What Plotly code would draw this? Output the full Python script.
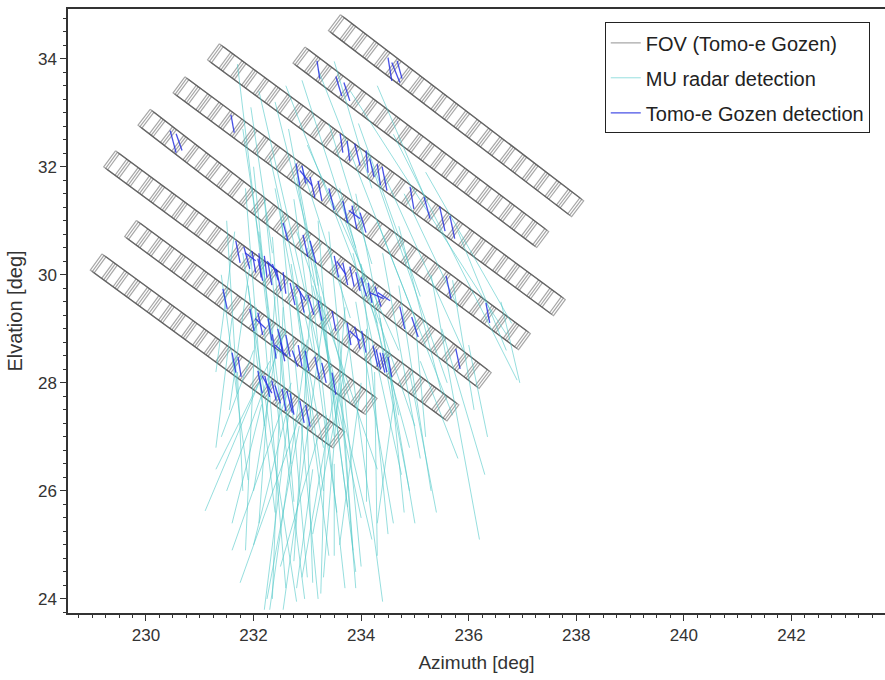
import numpy as np
import plotly.graph_objects as go

# ---------------------------------------------------------------------------
# Tomo-e Gozen field of view: one strip of sensor cells per pointing.
# Centre line of each strip (start -> end) in azimuth / elevation, and the
# number of sensor cells along the strip.
# ---------------------------------------------------------------------------
STRIP_AZ0 = [233.54, 232.88, 231.29, 230.65, 230.00, 229.36, 229.75, 229.11]
STRIP_EL0 = [34.64, 34.04, 34.10, 33.49, 32.89, 32.12, 30.83, 30.21]
STRIP_AZ1 = [237.99, 237.34, 237.65, 237.00, 236.27, 235.67, 234.15, 233.55]
STRIP_EL1 = [31.25, 30.68, 29.42, 28.79, 28.07, 27.47, 27.59, 26.97]
STRIP_CELLS = [21, 21, 30, 30, 30, 30, 21, 21]

# ---------------------------------------------------------------------------
# MU radar meteor trajectories (start -> end)
# ---------------------------------------------------------------------------
MU_AZ0 = [231.70, 232.10, 232.40, 232.60, 232.90, 233.20, 233.50, 233.80, 234.30, 234.60,
          233.00, 232.80, 232.12, 232.30, 232.70, 232.00, 232.90, 233.00, 233.30, 232.40,
          231.90, 231.80, 232.10, 232.50, 232.70, 233.00, 233.40, 233.60, 233.10, 234.00,
          234.20, 234.40, 234.70, 235.00, 235.30, 235.50, 236.00, 236.60, 231.50, 231.60,
          232.60, 233.80, 233.50, 234.00, 233.20, 232.60, 233.90, 234.10, 233.60, 232.90,
          232.30, 232.00, 231.80, 233.40, 234.80, 235.20, 235.80, 234.50, 234.90, 235.10,
          233.70, 232.80, 233.20, 232.20, 231.40, 231.70, 234.30, 233.10, 234.60, 233.50,
          232.50, 233.25, 233.90, 232.20, 232.95, 234.10, 233.40, 232.80, 233.70, 231.95,
          232.45, 234.70, 235.70, 232.65, 231.95, 231.85, 232.35, 232.75, 233.15, 233.55,
          232.05, 232.55, 233.05, 233.85, 234.35, 231.65, 232.15, 232.85, 233.35, 234.25,
          232.40, 233.95, 234.45, 232.70, 233.60]
MU_EL0 = [33.90, 33.40, 33.20, 33.50, 33.60, 33.80, 33.95, 33.40, 33.50, 32.60,
          32.40, 31.80, 28.04, 28.40, 28.00, 28.60, 27.50, 28.80, 29.20, 29.60,
          29.80, 30.40, 30.80, 31.20, 30.20, 30.50, 30.80, 30.00, 29.80, 30.20,
          29.60, 30.40, 29.80, 29.20, 30.00, 29.00, 28.70, 29.50, 31.00, 29.20,
          29.00, 28.80, 27.80, 28.00, 27.00, 27.40, 31.50, 32.30, 31.60, 32.00,
          32.20, 32.00, 32.70, 32.80, 31.50, 31.90, 30.80, 28.60, 28.20, 28.40,
          29.40, 29.60, 31.00, 31.40, 30.00, 28.20, 31.00, 26.40, 27.60, 26.50,
          30.00, 29.60, 29.50, 29.00, 28.60, 29.00, 28.40, 30.80, 31.00, 30.30,
          28.80, 30.90, 29.90, 32.70, 33.10, 31.60, 30.70, 31.40, 30.20, 29.00,
          29.40, 29.40, 29.30, 30.40, 29.20, 30.80, 27.60, 27.20, 27.40, 28.20,
          31.60, 32.80, 31.80, 27.80, 28.00]
MU_AZ1 = [232.30, 233.30, 233.80, 234.30, 233.90, 235.00, 234.20, 236.70, 235.20, 236.90,
          234.70, 233.60, 231.10, 231.30, 231.60, 231.40, 231.75, 232.30, 232.55, 232.10,
          232.40, 232.80, 232.95, 233.20, 233.40, 233.70, 234.00, 234.40, 234.20, 234.50,
          234.90, 235.10, 235.30, 235.20, 236.20, 236.30, 236.35, 236.95, 231.70, 231.30,
          231.50, 233.10, 232.90, 233.60, 232.50, 232.00, 234.70, 235.60, 234.90, 233.80,
          233.10, 232.50, 232.20, 234.20, 235.80, 236.80, 236.70, 234.80, 235.40, 235.80,
          233.30, 233.30, 233.50, 232.70, 231.90, 231.80, 235.70, 232.80, 234.30, 233.50,
          233.00, 233.90, 234.60, 232.60, 233.10, 234.10, 234.00, 234.30, 235.00, 231.55,
          232.00, 235.50, 236.10, 233.20, 232.35, 232.20, 232.75, 233.55, 233.75, 233.85,
          231.85, 232.35, 232.75, 234.75, 235.00, 231.30, 231.60, 232.25, 233.25, 234.30,
          233.30, 235.10, 235.90, 232.20, 233.90]
MU_EL1 = [28.90, 28.20, 27.60, 29.10, 30.50, 29.20, 31.60, 28.90, 31.40, 28.05,
          28.60, 27.20, 25.63, 26.40, 24.90, 27.00, 24.30, 23.80, 23.80, 25.40,
          25.60, 23.95, 24.00, 24.00, 24.80, 24.20, 24.60, 23.95, 25.10, 25.20,
          26.00, 26.60, 26.00, 27.00, 25.10, 26.30, 27.00, 28.00, 27.80, 26.80,
          26.00, 25.20, 24.40, 25.00, 24.60, 25.00, 27.40, 28.00, 26.80, 29.20,
          28.60, 27.00, 30.00, 30.20, 29.40, 29.10, 28.60, 25.60, 25.60, 26.60,
          24.40, 26.00, 27.00, 26.50, 26.20, 26.00, 27.40, 24.20, 25.40, 24.80,
          24.40, 24.50, 25.40, 24.20, 24.30, 25.80, 25.50, 26.40, 27.20, 27.50,
          26.00, 27.80, 27.50, 29.80, 30.40, 27.20, 25.80, 25.60, 25.70, 24.90,
          24.90, 24.00, 24.70, 26.30, 25.40, 28.20, 25.40, 24.00, 24.10, 24.80,
          26.80, 29.60, 28.60, 23.80, 24.20]

# ---------------------------------------------------------------------------
# Tomo-e Gozen meteor detections (start -> end)
# ---------------------------------------------------------------------------
TG_AZ0 = [234.50, 234.57, 234.67,
          233.18, 233.53, 233.68,
          233.61, 233.74, 233.88, 234.09, 234.16, 234.39, 234.91, 235.17, 235.46, 235.65,
          231.58, 232.79, 232.90, 233.05, 233.20, 233.66, 233.83, 233.98, 233.77, 235.58, 236.32,
          230.45, 230.56, 232.55, 232.92, 233.05, 233.66, 233.79, 234.13, 234.26, 234.16,
          234.72, 234.94, 235.76,
          231.67, 231.82, 231.97, 232.08, 232.27, 232.42, 232.68, 232.86, 233.01, 233.20,
          233.46, 233.74, 233.88, 234.01, 234.35, 234.50, 234.22,
          231.43, 231.93, 232.08, 232.27, 232.45, 232.60, 232.83, 232.96, 233.14, 233.27, 233.46,
          231.60, 231.71, 232.08, 232.21, 232.34, 232.53, 232.68, 232.86, 232.97,
          232.79, 232.16, 233.79, 234.31, 232.03, 232.86, 231.84,
          232.10, 232.20, 232.35, 232.55, 232.35, 232.50, 232.72, 232.40, 232.62,
          233.50, 233.90, 234.00, 234.28, 234.40, 233.40, 234.30,
          232.25, 232.40, 233.55]
TG_EL0 = [34.02, 33.93, 33.96,
          33.96, 33.67, 33.56,
          32.61, 32.48, 32.43, 32.30, 32.15, 32.00, 31.63, 31.44, 31.26, 31.09,
          32.96, 32.06, 32.02, 31.81, 31.74, 31.37, 31.28, 31.15, 31.19, 29.98, 29.48,
          32.67, 32.61, 30.96, 30.74, 30.63, 30.22, 30.15, 29.85, 29.78, 29.67,
          29.41, 29.22, 28.63,
          30.63, 30.52, 30.44, 30.30, 30.22, 30.11, 29.85, 29.70, 29.63, 29.52,
          29.33, 29.11, 29.04, 28.96, 28.56, 28.48, 28.69,
          29.74, 29.37, 29.30, 29.19, 29.00, 28.89, 28.70, 28.59, 28.48, 28.37, 28.19,
          28.56, 28.48, 28.22, 28.13, 28.04, 27.89, 27.81, 27.67, 27.59,
          29.80, 28.13, 28.96, 29.67, 29.19, 31.93, 30.41,
          30.40, 30.35, 30.20, 30.05, 28.90, 28.75, 28.60, 27.95, 27.85,
          30.35, 30.05, 29.95, 28.62, 28.55, 31.60, 32.05,
          30.25, 28.70, 30.25]
TG_AZ1 = [234.57, 234.72, 234.76,
          233.23, 233.64, 233.79,
          233.66, 233.79, 233.98, 234.13, 234.24, 234.48, 234.98, 235.28, 235.56, 235.74,
          231.64, 232.86, 232.97, 233.14, 233.27, 233.75, 233.92, 234.09, 233.98, 235.67, 236.39,
          230.56, 230.67, 232.64, 233.01, 233.16, 233.75, 233.87, 234.20, 234.37, 234.42,
          234.81, 235.06, 235.84,
          231.75, 231.93, 232.04, 232.17, 232.34, 232.51, 232.77, 232.94, 233.12, 233.27,
          233.53, 233.81, 233.98, 234.09, 234.44, 234.57, 234.31,
          231.51, 232.01, 232.17, 232.34, 232.55, 232.68, 232.90, 233.03, 233.23, 233.35, 233.53,
          231.67, 231.77, 232.16, 232.30, 232.42, 232.60, 232.75, 232.94, 233.05,
          232.97, 232.34, 233.98, 234.54, 232.23, 233.09, 232.04,
          232.14, 232.25, 232.46, 232.60, 232.42, 232.58, 232.82, 232.50, 232.72,
          233.58, 233.98, 234.10, 234.36, 234.48, 233.50, 234.36,
          232.45, 232.62, 233.72]
TG_EL1 = [33.59, 33.56, 33.63,
          33.63, 33.31, 33.22,
          32.26, 32.11, 32.02, 31.89, 31.81, 31.56, 31.22, 31.04, 30.81, 30.67,
          32.63, 31.65, 31.69, 31.43, 31.37, 30.96, 30.85, 30.78, 31.04, 29.56, 29.11,
          32.26, 32.30, 30.63, 30.33, 30.22, 29.81, 29.78, 29.48, 29.41, 29.56,
          29.00, 28.85, 28.26,
          30.22, 30.11, 30.04, 29.89, 29.81, 29.70, 29.44, 29.30, 29.26, 29.15,
          28.96, 28.70, 28.63, 28.56, 28.19, 28.11, 28.30,
          29.37, 28.96, 28.89, 28.78, 28.59, 28.48, 28.30, 28.22, 28.07, 28.00, 27.78,
          28.19, 28.11, 27.81, 27.74, 27.67, 27.48, 27.41, 27.26, 27.19,
          29.52, 27.81, 28.78, 29.52, 29.00, 31.65, 30.26,
          29.95, 29.95, 29.90, 29.65, 28.45, 28.40, 28.30, 27.62, 27.45,
          29.95, 29.70, 29.60, 28.25, 28.20, 31.20, 31.66,
          30.05, 28.50, 30.00]

# Strip geometry / drawing constants
STRIP_WIDTH = 0.37                   # deg, across the strip
DRIFT_SHIFTS = [-0.045, 0.0, 0.045]  # small drift of the field during the run (deg)
FONT = "Liberation Sans, Arial, sans-serif"


def strip_path(az0, el0, az1, el1, ncell, shift):
    """Outline plus cell separators of one sensor strip as a None-separated path."""
    p0 = np.array([az0, el0], dtype=float)
    p1 = np.array([az1, el1], dtype=float)
    d = p1 - p0
    u = d / np.hypot(*d)
    n = np.array([-u[1], u[0]])
    p0 = p0 + u * shift
    p1 = p1 + u * shift
    h = n * STRIP_WIDTH / 2
    xs, ys = [], []
    ring = [p0 + h, p1 + h, p1 - h, p0 - h, p0 + h]
    xs += [q[0] for q in ring] + [None]
    ys += [q[1] for q in ring] + [None]
    for k in range(1, ncell):
        c = p0 + (p1 - p0) * k / ncell
        a, b = c + h, c - h
        xs += [a[0], b[0], None]
        ys += [a[1], b[1], None]
    return xs, ys


def segment_path(ax0, ay0, ax1, ay1):
    xs, ys = [], []
    for x0, y0, x1, y1 in zip(ax0, ay0, ax1, ay1):
        xs += [x0, x1, None]
        ys += [y0, y1, None]
    return xs, ys


fov_x, fov_y = [], []
for i in range(len(STRIP_AZ0)):
    for s in DRIFT_SHIFTS:
        xs, ys = strip_path(STRIP_AZ0[i], STRIP_EL0[i], STRIP_AZ1[i], STRIP_EL1[i],
                            STRIP_CELLS[i], s)
        fov_x += xs
        fov_y += ys

mu_x, mu_y = segment_path(MU_AZ0, MU_EL0, MU_AZ1, MU_EL1)
tg_x, tg_y = segment_path(TG_AZ0, TG_EL0, TG_AZ1, TG_EL1)

fig = go.Figure()
fig.add_trace(go.Scatter(
    x=fov_x, y=fov_y, mode="lines", name="FOV (Tomo-e Gozen)",
    line=dict(color="rgba(80,80,80,0.5)", width=1.2),
    legendgroup="fov", hoverinfo="skip"))
fig.add_trace(go.Scatter(
    x=mu_x, y=mu_y, mode="lines", name="MU radar detection",
    line=dict(color="rgba(80,200,200,0.6)", width=1),
    legendgroup="mu", hoverinfo="skip"))
fig.add_trace(go.Scatter(
    x=tg_x, y=tg_y, mode="lines", name="Tomo-e Gozen detection",
    line=dict(color="rgba(40,50,225,0.85)", width=1.3),
    legendgroup="tg", hoverinfo="skip"))

axis_common = dict(
    showline=True, linecolor="#333", linewidth=1.5,
    showgrid=False, zeroline=False,
    ticks="outside", ticklen=6, tickwidth=1.3, tickcolor="#333",
    minor=dict(ticks="outside", ticklen=3, tickwidth=1, tickcolor="#333", dtick=0.25),
    tickfont=dict(family=FONT, size=17, color="#333"),
)

fig.update_layout(
    width=885, height=680,
    margin=dict(l=68, r=0, t=9, b=67),
    paper_bgcolor="white", plot_bgcolor="white",
    showlegend=True,
    legend=dict(
        x=0.657, y=0.978, xanchor="left", yanchor="top",
        bordercolor="#222", borderwidth=1, bgcolor="white",
        font=dict(family=FONT, size=20, color="#222"),
        traceorder="grouped", tracegroupgap=6, itemwidth=30,
    ),
    xaxis=dict(
        range=[228.55, 243.74], tick0=230, dtick=2, mirror=True,
        title=dict(text="Azimuth [deg]", standoff=12,
                   font=dict(family=FONT, size=19, color="#333")),
        **axis_common),
    yaxis=dict(
        range=[23.74, 34.92], tick0=24, dtick=2, mirror=False,
        title=dict(text="Elvation [deg]", standoff=10,
                   font=dict(family=FONT, size=20, color="#333")),
        **axis_common),
)

fig.write_html("out.html")
